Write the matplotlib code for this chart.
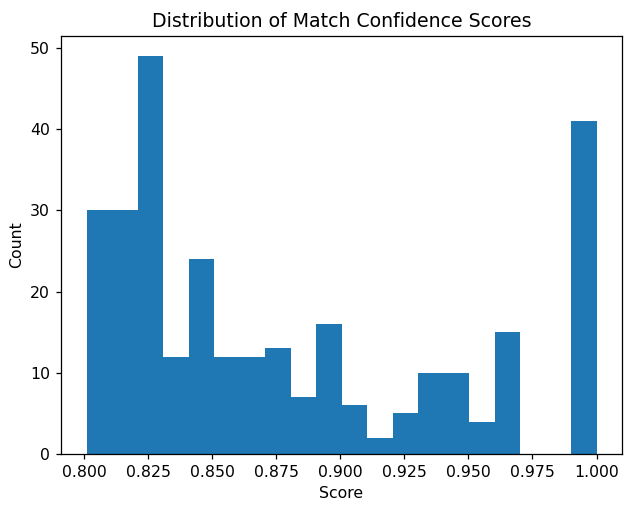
import numpy as np
import matplotlib
matplotlib.use('Agg')
import matplotlib.pyplot as plt

# Histogram: 20 bins between min and max score
score_min = 0.8008
score_max = 1.0
counts = [30, 30, 49, 12, 24, 12, 12, 13, 7, 16,
          6, 2, 5, 10, 10, 4, 15, 0, 0, 41]

edges = np.linspace(score_min, score_max, len(counts) + 1)

dpi = 113
fig = plt.figure(figsize=(630 / dpi, 508 / dpi), dpi=dpi)
ax = fig.add_axes([61 / 630, 1 - 454 / 508, 561 / 630, 418 / 508])
# stepfilled draws one polygon, so no hairline gaps between neighbouring bars
ax.hist(edges[:-1], bins=edges, weights=counts, histtype='stepfilled',
        color='#1f77b4')
ax.set_title('Distribution of Match Confidence Scores')
ax.set_xlabel('Score')
ax.set_ylabel('Count')
fig.savefig('out.png', dpi=dpi)
